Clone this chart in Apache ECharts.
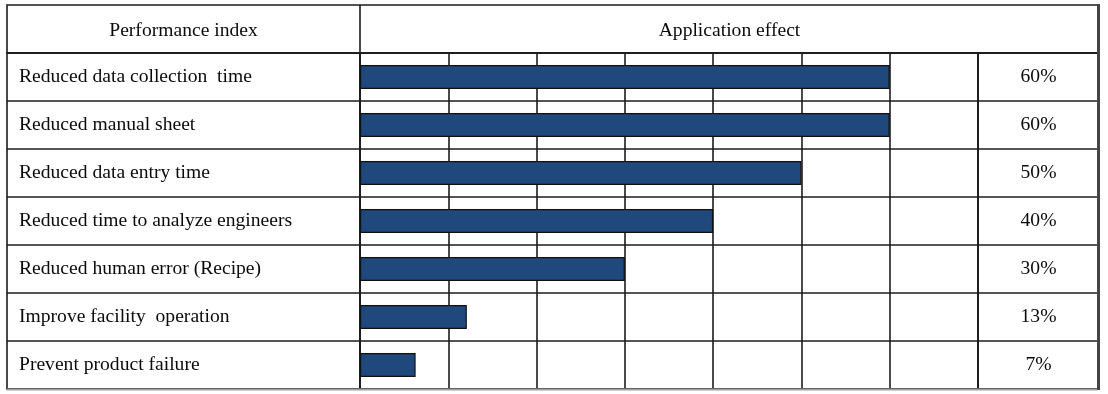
<!DOCTYPE html>
<html><head><meta charset="utf-8">
<script src="https://cdn.jsdelivr.net/npm/echarts@6/dist/echarts.min.js"></script>
<style>html,body{margin:0;padding:0;background:#fff}#c{width:1108px;height:394px}</style>
</head><body><div id="c"></div>
<script>
// ---- data ----
const headerLabels = ['Performance index', 'Application effect'];
const indices = [
  'Reduced data collection  time',
  'Reduced manual sheet',
  'Reduced data entry time',
  'Reduced time to analyze engineers',
  'Reduced human error (Recipe)',
  'Improve facility  operation',
  'Prevent product failure'
];
const effectPercent = [60, 60, 50, 40, 30, 13, 7];       // printed values
const barValues = [60, 60, 50, 40, 30, 12.1, 6.3];        // bar lengths as drawn
const axisMin = 0, axisMax = 70, axisStep = 10;
const effectLabels = effectPercent.map(v => v + '%');

// ---- chart ----
const FONT = 'Liberation Serif';
const FS = 19.6;
const lineC = '#1c1c1c';
const lw = 1.6;
const chart = echarts.init(document.getElementById('c'), null, {renderer: 'canvas'});
const split = {show: true, lineStyle: {color: lineC, width: lw}};
chart.setOption({
  animation: false,
  backgroundColor: '#fff',
  grid: [
    {left: 7, top: 53, width: 353, height: 336, show: true, borderColor: lineC, borderWidth: lw, containLabel: false},
    {left: 360, top: 53, width: 618, height: 336, show: true, borderColor: lineC, borderWidth: lw, containLabel: false},
    {left: 978, top: 53, width: 121, height: 336, show: true, borderColor: lineC, borderWidth: lw, containLabel: false}
  ],
  xAxis: [
    {gridIndex: 0, type: 'value', show: false, min: 0, max: 1},
    {gridIndex: 1, type: 'value', min: axisMin, max: axisMax, interval: axisStep,
      axisLabel: {show: false}, axisLine: {show: false}, axisTick: {show: false}, splitLine: split},
    {gridIndex: 2, type: 'value', show: false, min: 0, max: 1}
  ],
  yAxis: [
    {gridIndex: 0, type: 'category', data: indices, inverse: true,
      axisLine: {show: false}, axisTick: {show: false}, splitLine: split,
      axisLabel: {align: 'left', margin: -12, fontFamily: FONT, fontSize: FS, color: '#0a0a0a', interval: 0, padding: [2, 0, 0, 0]}},
    {gridIndex: 1, type: 'category', data: indices, inverse: true,
      axisLine: {show: false}, axisTick: {show: false}, splitLine: split, axisLabel: {show: false}},
    {gridIndex: 2, type: 'category', data: effectLabels, inverse: true,
      axisLine: {show: false}, axisTick: {show: false}, splitLine: split,
      axisLabel: {align: 'center', margin: -60.5, fontFamily: FONT, fontSize: FS, color: '#0a0a0a', interval: 0, padding: [2, 0, 0, 0]}}
  ],
  series: [{
    type: 'bar', xAxisIndex: 1, yAxisIndex: 1, data: barValues, barWidth: 24,
    itemStyle: {color: '#1F497D', borderColor: '#111', borderWidth: 1.2}
  }],
  graphic: [
    {type: 'rect', z: 50, shape: {x: 7, y: 5, width: 1092, height: 48}, style: {fill: 'none', stroke: lineC, lineWidth: lw}},
    {type: 'line', z: 50, shape: {x1: 360, y1: 5, x2: 360, y2: 53}, style: {stroke: lineC, lineWidth: lw}},
    {type: 'text', z: 50, x: 183.5, y: 30.5, style: {text: headerLabels[0], font: FS + 'px "Liberation Serif"', fill: '#0a0a0a', textAlign: 'center', textVerticalAlign: 'middle'}},
    {type: 'text', z: 50, x: 729.5, y: 30.5, style: {text: headerLabels[1], font: FS + 'px "Liberation Serif"', fill: '#0a0a0a', textAlign: 'center', textVerticalAlign: 'middle'}},
    {type: 'line', z: 60, shape: {x1: 1098.5, y1: 4, x2: 1098.5, y2: 390}, style: {stroke: '#444', lineWidth: 3}},
    {type: 'line', z: 60, shape: {x1: 7, y1: 389.5, x2: 1097, y2: 389.5}, style: {stroke: '#a0a0a0', lineWidth: 2}}
  ]
});
</script>
</body></html>
